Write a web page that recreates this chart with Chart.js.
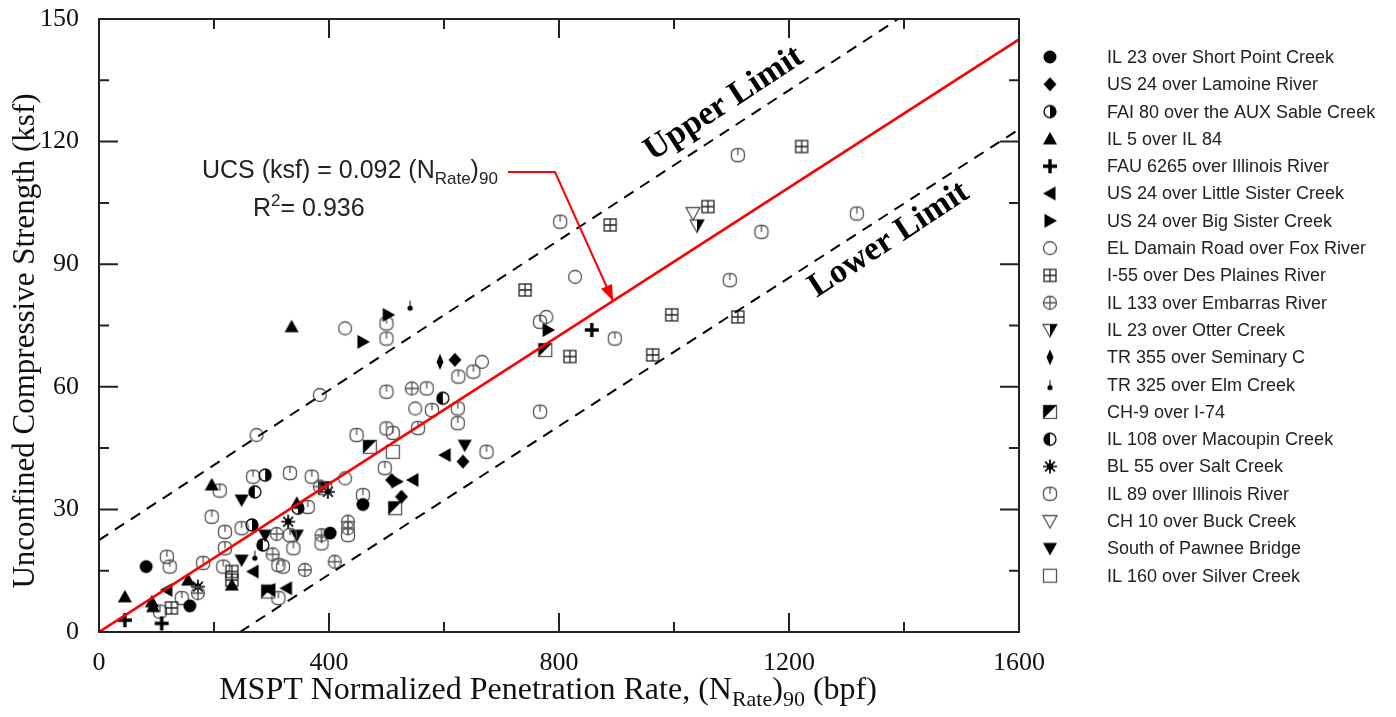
<!DOCTYPE html>
<html>
<head>
<meta charset="utf-8">
<script src="https://cdn.jsdelivr.net/npm/chart.js@4.4.1/dist/chart.umd.min.js"></script>
<style>
  body { margin: 0; background: #fff; }
  canvas { display: block; }
</style>
</head>
<body>
<canvas id="ucsChart" width="1396" height="717"></canvas>
<script>
// axis ticks
var xTicks = [0, 400, 800, 1200, 1600];
var xMinor = [200, 600, 1000, 1400];
var yTicks = [0, 30, 60, 90, 120, 150];
var yMinor = [15, 45, 75, 105, 135];

// reference lines, [x, y]
var fitLine = [[0, 0], [1600, 145]];
var upperLimit = [[0, 22.5], [1390, 150]];
var lowerLimit = [[245, 0], [1600, 123]];

// site data, [(NRate)90, UCS]
var shortPoint = [[82,16],[158,6.4],[459,31.2],[402,24.2]];
var lamoine = [[619,66.6],[633,41.7],[509,37.2],[526,33.1]];
var auxSable = [[289,38.4],[346,30.3],[266,26.2]];
var il5 = [[335,74.7],[196,36],[344,31.5],[231,11.5],[155,12.7],[45,8.6],[92,7.4],[94,6.2]];
var fau6265 = [[857,73.9],[45,2.9],[109,2.1]];
var littleSister = [[602,43.3],[546,37.2],[268,14.8],[118,10.3],[297,10.3],[326,10.7]];
var bigSister = [[503,77.6],[459,71],[781,73.9],[518,36.8]];
var elDamain = [[428,74.3],[828,86.9],[778,77.1],[666,66.1],[550,54.7],[428,37.6],[274,48.2],[384,58]];
var i55 = [[1222,118.8],[1059,104.1],[889,99.6],[741,83.7],[996,77.6],[1111,77.1],[819,67.4],[963,67.8],[231,14.8],[231,12.7],[126,5.9]];
var il133 = [[544,59.6],[384,35.6],[433,27],[433,25.4],[309,24],[387,23.7],[302,19],[410,17.2],[358,15.2],[172,9.5]];
var otterCreek = [[1040,99.5]];
var seminary = [[593,66.1]];
var elmCreek = [[541,80],[271,18.8]];
var ch9 = [[776,69],[471,45.3],[393,35.2],[515,30.3],[294,9.9]];
var macoupin = [[271,34.3],[285,21.3],[598,57.2]];
var saltCreek = [[329,27],[398,34.3],[172,11.1]];
var il89 = [[1111,116.7],[802,100.4],[1318,102.4],[1152,97.9],[1097,86.1],[897,71.8],[767,75.9],[651,63.7],
  [625,62.5],[624,54.7],[624,51.1],[767,53.9],[674,44.1],[570,59.6],[579,54.3],[500,58.8],[500,75.5],[500,71.8],
  [448,48.2],[500,49.8],[511,48.7],[555,49.9],[497,40.1],[459,33.5],[370,38],[332,38.9],[268,38],[210,34.6],
  [196,28.2],[219,24.5],[248,25.4],[363,30.6],[332,23.7],[338,20.5],[312,16.4],[320,16],[433,23.7],[387,21.7],
  [118,18.4],[123,16],[181,16.9],[219,20.5],[216,16],[144,8.3],[106,5],[312,8.3]];
var buckCreek = [[1033,102.5]];
var pawnee = [[248,32.3],[289,23.7],[344,23.7],[248,17.6],[636,45.7]];
var il160 = [[511,44.1]];

var INK = '#000';
var GREY = '#555';

// small canvases used as point styles
function marker(kind) {
  var c = document.createElement('canvas');
  c.width = 18; c.height = 18;
  var g = c.getContext('2d');
  g.translate(9, 9);
  g.lineWidth = 1.3;
  g.strokeStyle = INK;
  g.fillStyle = INK;
  function poly(pts) {
    g.beginPath();
    g.moveTo(pts[0][0], pts[0][1]);
    for (var i = 1; i < pts.length; i++) g.lineTo(pts[i][0], pts[i][1]);
    g.closePath();
  }
  function ring(r) { g.beginPath(); g.arc(0, 0, r, 0, Math.PI * 2); }
  switch (kind) {
    case 'dot': ring(6.5); g.fill(); break;
    case 'diamond': poly([[0,-7],[6.5,0],[0,7],[-6.5,0]]); g.fill(); break;
    case 'halfR':
      ring(6); g.stroke();
      g.beginPath(); g.arc(0, 0, 6, -Math.PI / 2, Math.PI / 2); g.closePath(); g.fill(); break;
    case 'halfL':
      ring(6); g.stroke();
      g.beginPath(); g.arc(0, 0, 6, Math.PI / 2, Math.PI * 1.5); g.closePath(); g.fill(); break;
    case 'triUp': poly([[0,-7],[7,5.5],[-7,5.5]]); g.fill(); break;
    case 'triDown': poly([[-7,-5.5],[7,-5.5],[0,7]]); g.fill(); break;
    case 'triLeft': poly([[-7,0],[5.5,-7],[5.5,7]]); g.fill(); break;
    case 'triRight': poly([[7,0],[-5.5,-7],[-5.5,7]]); g.fill(); break;
    case 'plus': g.fillRect(-7, -1.7, 14, 3.4); g.fillRect(-1.7, -7, 3.4, 14); break;
    case 'ring': g.strokeStyle = GREY; ring(6.5); g.stroke(); break;
    case 'boxGrid':
      g.strokeStyle = '#222';
      g.strokeRect(-6, -6, 12, 12);
      g.beginPath(); g.moveTo(-6, 0); g.lineTo(6, 0); g.moveTo(0, -6); g.lineTo(0, 6); g.stroke(); break;
    case 'ringCross':
      g.strokeStyle = GREY; ring(6.5); g.stroke();
      g.beginPath(); g.moveTo(-6.5, 0); g.lineTo(6.5, 0); g.moveTo(0, -6.5); g.lineTo(0, 6.5); g.stroke(); break;
    case 'triDownHalf':
      g.strokeStyle = GREY;
      poly([[-7,-5.5],[7,-5.5],[0,7]]); g.stroke();
      poly([[0,-5.5],[7,-5.5],[0,7]]); g.fill(); break;
    case 'triDownOpen': g.strokeStyle = GREY; poly([[-7,-5.5],[7,-5.5],[0,7]]); g.stroke(); break;
    case 'thinDiamond': poly([[0,-8],[3.5,0],[0,8],[-3.5,0]]); g.fill(); break;
    case 'pin':
      g.beginPath(); g.arc(0, 3, 2.6, 0, Math.PI * 2); g.fill();
      g.lineWidth = 1; g.beginPath(); g.moveTo(0, 3); g.lineTo(0, -4.5); g.stroke(); break;
    case 'boxHalf':
      g.strokeStyle = GREY; g.strokeRect(-6.5, -6.5, 13, 13);
      poly([[-6.5,-6.5],[6.5,-6.5],[-6.5,6.5]]); g.fill(); break;
    case 'star':
      g.lineWidth = 1.7;
      g.beginPath();
      for (var k = 0; k < 8; k++) {
        var t = k * Math.PI / 4;
        g.moveTo(0, 0); g.lineTo(7 * Math.cos(t), 7 * Math.sin(t));
      }
      g.stroke();
      ring(3.2); g.fill(); break;
    case 'power':
      g.strokeStyle = GREY;
      g.beginPath();
      g.roundRect(-6.5, -6.5, 13, 13, 5);
      g.stroke();
      g.beginPath(); g.moveTo(0, -6.5); g.lineTo(0, 0); g.stroke(); break;
    case 'box': g.strokeStyle = GREY; g.strokeRect(-6.5, -6.5, 13, 13); break;
  }
  return c;
}

function pts(arr) {
  return arr.map(function (p) { return { x: p[0], y: p[1] }; });
}

function site(label, arr, kind) {
  return {
    type: 'scatter',
    label: label,
    data: pts(arr),
    pointStyle: marker(kind),
    pointRadius: 7,
    showLine: false,
    inLegend: true,
    order: 5
  };
}

function refLine(arr, color, width, dash) {
  return {
    type: 'line',
    label: '',
    data: pts(arr),
    borderColor: color,
    borderWidth: width,
    borderDash: dash,
    pointRadius: 0,
    fill: false,
    tension: 0,
    inLegend: false,
    order: 1
  };
}

var datasets = [
  refLine(fitLine, '#ff0000', 2.6, []),
  refLine(upperLimit, '#000', 2, [11, 8]),
  refLine(lowerLimit, '#000', 2, [11, 8]),
  site('IL 23 over Short Point Creek', shortPoint, 'dot'),
  site('US 24 over Lamoine River', lamoine, 'diamond'),
  site('FAI 80 over the AUX Sable Creek', auxSable, 'halfR'),
  site('IL 5 over IL 84', il5, 'triUp'),
  site('FAU 6265 over Illinois River', fau6265, 'plus'),
  site('US 24 over Little Sister Creek', littleSister, 'triLeft'),
  site('US 24 over Big Sister Creek', bigSister, 'triRight'),
  site('EL Damain Road over Fox River', elDamain, 'ring'),
  site('I-55 over Des Plaines River', i55, 'boxGrid'),
  site('IL 133 over Embarras River', il133, 'ringCross'),
  site('IL 23 over Otter Creek', otterCreek, 'triDownHalf'),
  site('TR 355 over Seminary C', seminary, 'thinDiamond'),
  site('TR 325 over Elm Creek', elmCreek, 'pin'),
  site('CH-9 over I-74', ch9, 'boxHalf'),
  site('IL 108 over Macoupin Creek', macoupin, 'halfL'),
  site('BL 55 over Salt Creek', saltCreek, 'star'),
  site('IL 89 over Illinois River', il89, 'power'),
  site('CH 10 over Buck Creek', buckCreek, 'triDownOpen'),
  site('South of Pawnee Bridge', pawnee, 'triDown'),
  site('IL 160 over Silver Creek', il160, 'box')
];

// draws text runs with sub/superscripts: [text, size, yShift]
function runs(ctx, family, parts, x, y, align) {
  var total = 0;
  parts.forEach(function (p) { ctx.font = p[1] + 'px ' + family; total += ctx.measureText(p[0]).width; });
  var cx = align === 'center' ? x - total / 2 : x;
  ctx.textAlign = 'left';
  ctx.textBaseline = 'alphabetic';
  parts.forEach(function (p) {
    ctx.font = p[1] + 'px ' + family;
    ctx.fillText(p[0], cx, y + p[2]);
    cx += ctx.measureText(p[0]).width;
  });
}

var decor = {
  id: 'decor',
  afterDraw: function (chart) {
    var ctx = chart.ctx, a = chart.chartArea;
    var xs = chart.scales.x, ys = chart.scales.y;
    ctx.save();

    // frame and inward ticks on all four sides
    ctx.strokeStyle = '#222';
    ctx.lineWidth = 2;
    ctx.strokeRect(a.left, a.top, a.right - a.left, a.bottom - a.top);
    ctx.beginPath();
    function xt(v, len) {
      var px = xs.getPixelForValue(v);
      ctx.moveTo(px, a.bottom); ctx.lineTo(px, a.bottom - len);
      ctx.moveTo(px, a.top); ctx.lineTo(px, a.top + len);
    }
    function yt(v, len) {
      var py = ys.getPixelForValue(v);
      ctx.moveTo(a.left, py); ctx.lineTo(a.left + len, py);
      ctx.moveTo(a.right, py); ctx.lineTo(a.right - len, py);
    }
    xTicks.forEach(function (v) { xt(v, 19); });
    xMinor.forEach(function (v) { xt(v, 10); });
    yTicks.forEach(function (v) { yt(v, 19); });
    yMinor.forEach(function (v) { yt(v, 10); });
    ctx.stroke();

    // axis titles
    ctx.fillStyle = '#111';
    ctx.save();
    ctx.translate(26, 341);
    ctx.rotate(-Math.PI / 2);
    ctx.font = '31px "Liberation Serif"';
    ctx.textAlign = 'center';
    ctx.textBaseline = 'middle';
    ctx.fillText('Unconfined Compressive Strength (ksf)', 0, 0);
    ctx.restore();
    runs(ctx, '"Liberation Serif"', [
      ['MSPT Normalized Penetration Rate, (N', 32, 0],
      ['Rate', 22, 7], [')', 32, 0], ['90', 22, 7], [' (bpf)', 32, 0]
    ], 548, 699, 'center');

    // limit labels
    ctx.fillStyle = '#000';
    ctx.font = 'bold 34px "Liberation Serif"';
    ctx.textAlign = 'center';
    ctx.textBaseline = 'middle';
    var ang = -Math.atan(0.655);
    ctx.save(); ctx.translate(724, 104); ctx.rotate(ang); ctx.fillText('Upper Limit', 0, 0); ctx.restore();
    ctx.save(); ctx.translate(889, 240); ctx.rotate(ang); ctx.fillText('Lower Limit', 0, 0); ctx.restore();

    // regression equation
    ctx.fillStyle = '#222';
    runs(ctx, '"Liberation Sans"', [
      ['UCS (ksf) = 0.092 (N', 25, 0], ['Rate', 17, 6], [')', 25, 0], ['90', 17, 6]
    ], 202, 178);
    runs(ctx, '"Liberation Sans"', [['R', 25, 0], ['2', 17, -10], ['= 0.936', 25, 0]], 253, 216);

    // arrow to the fit line
    ctx.strokeStyle = '#ff0000';
    ctx.fillStyle = '#ff0000';
    ctx.lineWidth = 2;
    var tipX = xs.getPixelForValue(894), tipY = ys.getPixelForValue(81);
    ctx.beginPath();
    ctx.moveTo(508, 172); ctx.lineTo(555, 172); ctx.lineTo(tipX, tipY);
    ctx.stroke();
    var dir = Math.atan2(tipY - 172, tipX - 555);
    ctx.beginPath();
    ctx.moveTo(tipX, tipY);
    ctx.lineTo(tipX - 16 * Math.cos(dir) + 6 * Math.sin(dir), tipY - 16 * Math.sin(dir) - 6 * Math.cos(dir));
    ctx.lineTo(tipX - 16 * Math.cos(dir) - 6 * Math.sin(dir), tipY - 16 * Math.sin(dir) + 6 * Math.cos(dir));
    ctx.closePath();
    ctx.fill();

    // legend
    var row = 0;
    ctx.font = '18px "Liberation Sans"';
    ctx.textAlign = 'left';
    ctx.textBaseline = 'middle';
    chart.data.datasets.forEach(function (ds) {
      if (!ds.inLegend) return;
      var y = 57 + row * 27.3;
      var img = ds.pointStyle;
      ctx.drawImage(img, 1050 - img.width / 2, y - img.height / 2);
      ctx.fillStyle = '#222';
      ctx.fillText(ds.label, 1107, y + 1);
      row++;
    });
    ctx.restore();
  }
};

var serif = { family: '"Liberation Serif"', size: 26 };
function plain(v) { return String(v); }

new Chart(document.getElementById('ucsChart'), {
  type: 'scatter',
  data: { datasets: datasets },
  options: {
    responsive: false,
    animation: false,
    layout: { autoPadding: false, padding: { left: 0, top: 19, right: 377, bottom: 0 } },
    plugins: { legend: { display: false }, tooltip: { enabled: false } },
    scales: {
      x: {
        type: 'linear', min: 0, max: 1600,
        grid: { display: false },
        border: { display: false },
        ticks: { stepSize: 400, font: serif, color: '#111', padding: 8, maxRotation: 0, callback: plain },
        afterFit: function (s) { s.height = 85; s.paddingLeft = 0; s.paddingRight = 0; }
      },
      y: {
        type: 'linear', min: 0, max: 150,
        grid: { display: false },
        border: { display: false },
        ticks: { stepSize: 30, font: serif, color: '#111', padding: 12, callback: plain },
        afterFit: function (s) { s.width = 99; s.paddingTop = 0; s.paddingBottom = 0; }
      }
    }
  },
  plugins: [decor]
});
</script>
</body>
</html>
